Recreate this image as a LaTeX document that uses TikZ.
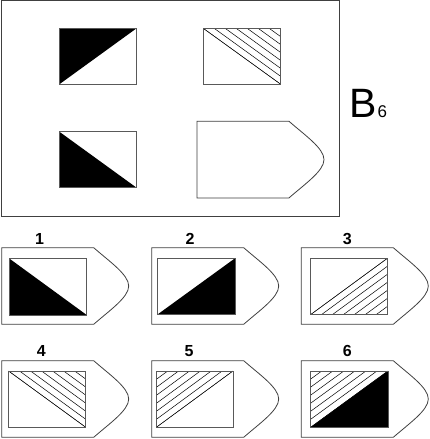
\documentclass[tikz,border=0pt]{standalone}
\usepackage{fontspec}
\setmainfont{Liberation Sans}
\tikzset{
  frame/.style={draw=black!75, line width=0.8pt},
  cell/.style={draw=black!65, line width=0.8pt},
  hatchline/.style={draw=black, line width=0.5pt},
  numlabel/.style={anchor=base, inner sep=0pt, font=\fontsize{16}{16}\selectfont\bfseries},
}
% pentagon outline: left, top
\newcommand{\pentaShape}[2]{%
  \draw[frame] (#1,#2) -- ({#1+92},#2)
    .. controls ({#1+108},{#2+14}) and ({#1+127},{#2+27}) .. ({#1+127},{#2+38.3})
    .. controls ({#1+127},{#2+49.6}) and ({#1+108},{#2+62.6}) .. ({#1+92},{#2+76.6})
    -- (#1,{#2+76.6}) -- cycle;}
% black triangles: x0 y0 x1 y1
\newcommand{\blackUL}[4]{\fill[black] (#1,#2) -- (#3,#2) -- (#1,#4) -- cycle; \draw[cell] (#1,#2) rectangle (#3,#4);}
\newcommand{\blackLL}[4]{\fill[black] (#1,#2) -- (#3,#4) -- (#1,#4) -- cycle; \draw[cell] (#1,#2) rectangle (#3,#4);}
\newcommand{\blackLR}[4]{\fill[black] (#1,#4) -- (#3,#2) -- (#3,#4) -- cycle; \draw[cell] (#1,#2) rectangle (#3,#4);}
% hatch upper-right triangle, lines down-right (diag TL-BR)
\newcommand{\hatchURd}[4]{%
  \begin{scope}
    \clip (#1,#2) -- (#3,#2) -- (#3,#4) -- cycle;
    \foreach \k in {0,...,7}{\draw[hatchline] ({#1+\k*(#3-#1)/7},#2) -- ({#3+\k*(#3-#1)/7},#4);}
  \end{scope}
  \draw[hatchline] (#1,#2) -- (#3,#4);
  \draw[cell] (#1,#2) rectangle (#3,#4);}
% hatch lower-right triangle, lines up-right (diag BL-TR)
\newcommand{\hatchLRu}[4]{%
  \begin{scope}
    \clip (#1,#4) -- (#3,#4) -- (#3,#2) -- cycle;
    \foreach \k in {0,...,7}{\draw[hatchline] ({#1+\k*(#3-#1)/7},#4) -- ({#3+\k*(#3-#1)/7},#2);}
  \end{scope}
  \draw[hatchline] (#1,#4) -- (#3,#2);
  \draw[cell] (#1,#2) rectangle (#3,#4);}
% hatch upper-left triangle, lines up-right (diag BL-TR)
\newcommand{\hatchULu}[4]{%
  \begin{scope}
    \clip (#1,#4) -- (#3,#2) -- (#1,#2) -- cycle;
    \foreach \k in {0,...,7}{\draw[hatchline] ({#1-\k*(#3-#1)/7},#4) -- ({#3-\k*(#3-#1)/7},#2);}
  \end{scope}
  \draw[hatchline] (#1,#4) -- (#3,#2);
  \draw[cell] (#1,#2) rectangle (#3,#4);}
\begin{document}
\begin{tikzpicture}[x=1pt,y=-1pt]
\useasboundingbox (0,0) rectangle (429,439);
\fill[white] (0,0) rectangle (429,439);
% matrix
\draw[frame] (1.2,0.6) rectangle (339,216.5);
\blackUL{59.3}{28.7}{136}{84.3}
\hatchURd{203.7}{28.7}{280.7}{84.3}
\blackLL{59.3}{131.7}{136}{187.3}
\pentaShape{197}{121.3}
\node[anchor=base west, inner sep=0pt, font=\fontsize{41}{41}\selectfont] (blabel) at (349.5,117.7) {B\kern0.5pt\fontsize{17}{17}\selectfont 6};
% options row 1
\pentaShape{1.7}{247.7}
\blackLL{9}{258.3}{86.7}{315}
\node[numlabel] (n1) at (39.5,244) {1};
\pentaShape{151.7}{247.7}
\blackLR{157.5}{258.3}{235}{314.5}
\node[numlabel] (n2) at (190,244) {2};
\pentaShape{301.3}{247.7}
\hatchLRu{310.7}{258.3}{387.3}{314.5}
\node[numlabel] (n3) at (347.3,244) {3};
% options row 2
\pentaShape{1.7}{360.7}
\hatchURd{8.5}{371}{85.7}{427.3}
\node[numlabel] (n4) at (41.3,356) {4};
\pentaShape{151.7}{360.7}
\hatchULu{156.8}{371}{233}{427}
\node[numlabel] (n5) at (189,356) {5};
\pentaShape{301.3}{360.7}
\fill[black] (310.7,427.3) -- (388,371) -- (388,427.3) -- cycle;
\hatchULu{310.7}{371}{388}{427.3}
\node[numlabel] (n6) at (347.3,356) {6};
\end{tikzpicture}
\end{document}
